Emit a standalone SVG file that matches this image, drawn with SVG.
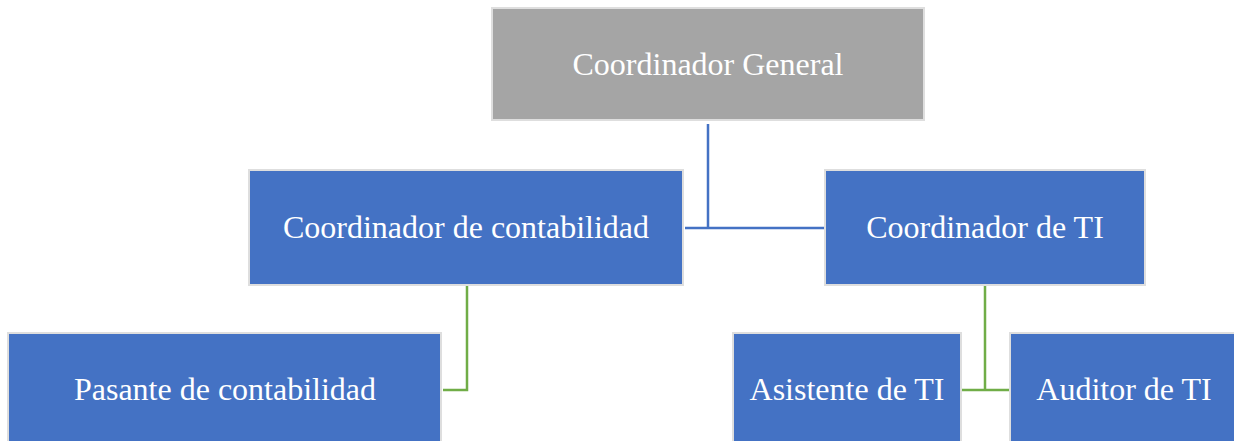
<svg xmlns="http://www.w3.org/2000/svg" width="1234" height="441" viewBox="0 0 1234 441">
<style>
.box{stroke:#dedede;stroke-width:2}
.blue{fill:#4472c4}
.grey{fill:#a5a5a5}
.lbl{font-family:"Liberation Serif","Times New Roman",serif;font-size:32px;fill:#ffffff;text-anchor:middle}
.cb{fill:none;stroke:#4472c4;stroke-width:2.5}
.cg{fill:none;stroke:#70ad47;stroke-width:2.5}
</style>
<rect width="1234" height="441" fill="#ffffff"/>
<g id="connectors">
<path class="cb" d="M708,124 V228 M685,228 H825"/>
<path class="cg" d="M467,286 V390 H443"/>
<path class="cg" d="M985,286 V390 M962,390 H1009"/>
</g>
<g id="coordinador-general">
<rect class="box grey" x="492" y="8" width="432" height="112"/>
<text class="lbl" x="708" y="75">Coordinador General</text>
</g>
<g id="coordinador-contabilidad">
<rect class="box blue" x="249" y="170" width="434" height="115"/>
<text class="lbl" x="466" y="238">Coordinador de contabilidad</text>
</g>
<g id="coordinador-ti">
<rect class="box blue" x="825" y="170" width="320" height="115"/>
<text class="lbl" x="985" y="238">Coordinador de TI</text>
</g>
<g id="pasante-contabilidad">
<rect class="box blue" x="8" y="333" width="433" height="115"/>
<text class="lbl" x="225" y="400">Pasante de contabilidad</text>
</g>
<g id="asistente-ti">
<rect class="box blue" x="733" y="333" width="228" height="115"/>
<text class="lbl" x="847" y="400">Asistente de TI</text>
</g>
<g id="auditor-ti">
<rect class="box blue" x="1010" y="333" width="228" height="115"/>
<text class="lbl" x="1124" y="400">Auditor de TI</text>
</g>
</svg>
